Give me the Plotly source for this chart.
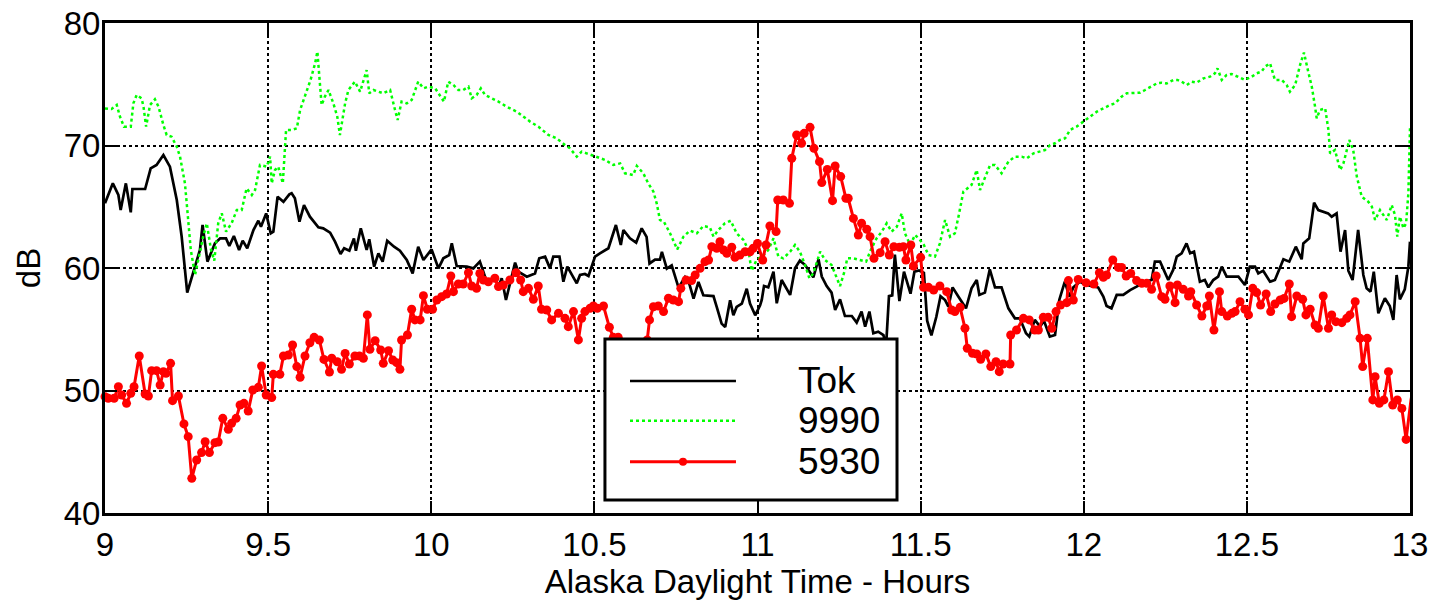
import plotly.graph_objects as go

# ---------------- data (hours AKDT, dB) ----------------
tok_hours = [9.000, 9.024, 9.041, 9.048, 9.064, 9.079, 9.084, 9.123, 9.140, 9.158, 9.179, 9.199, 9.220, 9.235, 9.252,
             9.291, 9.299, 9.314, 9.337, 9.353, 9.371, 9.381, 9.395, 9.411, 9.422, 9.436, 9.455, 9.470, 9.478, 9.494,
             9.508, 9.516, 9.529, 9.547, 9.565, 9.572, 9.582, 9.596, 9.610, 9.628, 9.654, 9.669, 9.690, 9.705, 9.722,
             9.733, 9.749, 9.763, 9.769, 9.784, 9.802, 9.810, 9.825, 9.838, 9.851, 9.865, 9.886, 9.904, 9.925, 9.943,
             9.960, 9.976, 10.001, 10.022, 10.037, 10.055, 10.063, 10.078, 10.109, 10.129, 10.149, 10.170, 10.195,
             10.206, 10.216, 10.229, 10.257, 10.267, 10.293, 10.318, 10.331, 10.349, 10.364, 10.374, 10.393, 10.405,
             10.417, 10.446, 10.456, 10.471, 10.482, 10.502, 10.517, 10.543, 10.566, 10.581, 10.589, 10.609, 10.628,
             10.645, 10.660, 10.669, 10.686, 10.701, 10.707, 10.722, 10.737, 10.758, 10.778, 10.788, 10.804, 10.819,
             10.834, 10.865, 10.875, 10.890, 10.901, 10.916, 10.926, 10.936, 10.952, 10.967, 10.977, 10.993, 11.008,
             11.013, 11.020, 11.033, 11.049, 11.059, 11.074, 11.100, 11.115, 11.130, 11.146, 11.171, 11.187, 11.197,
             11.212, 11.227, 11.238, 11.253, 11.268, 11.289, 11.304, 11.319, 11.330, 11.343, 11.355, 11.370, 11.386,
             11.394, 11.403, 11.413, 11.421, 11.435, 11.449, 11.469, 11.481, 11.495, 11.510, 11.520, 11.533, 11.548,
             11.561, 11.575, 11.585, 11.598, 11.616, 11.639, 11.656, 11.672, 11.680, 11.697, 11.712, 11.728, 11.748,
             11.769, 11.789, 11.804, 11.823, 11.833, 11.850, 11.866, 11.878, 11.896, 11.912, 11.925, 11.942, 11.956,
             11.968, 11.988, 12.009, 12.029, 12.044, 12.060, 12.070, 12.085, 12.101, 12.121, 12.142, 12.162, 12.188,
             12.208, 12.218, 12.234, 12.244, 12.259, 12.274, 12.285, 12.300, 12.315, 12.326, 12.338, 12.356, 12.371,
             12.382, 12.397, 12.412, 12.423, 12.438, 12.474, 12.494, 12.509, 12.525, 12.535, 12.550, 12.571, 12.586,
             12.612, 12.630, 12.650, 12.668, 12.673, 12.691, 12.706, 12.719, 12.749, 12.760, 12.775, 12.787, 12.801,
             12.811, 12.824, 12.841, 12.857, 12.867, 12.879, 12.889, 12.903, 12.923, 12.938, 12.949, 12.959, 12.969,
             12.984, 12.995, 13.000]
tok_db = [65.28, 66.91, 65.96, 64.73, 66.91, 64.54, 66.45, 66.45, 68.14, 68.41, 69.22, 68.27, 65.55, 62.56, 57.99,
          61.47, 63.51, 60.52, 62.01, 62.42, 62.42, 61.80, 62.61, 61.47, 62.23, 61.61, 63.10, 63.86, 63.37, 64.46,
          62.83, 62.97, 65.82, 65.41, 66.01, 66.10, 65.69, 63.78, 65.14, 64.19, 63.32, 63.24, 62.88, 62.15, 61.14,
          61.61, 61.41, 62.42, 61.41, 63.24, 61.47, 62.34, 60.11, 61.20, 60.52, 62.23, 61.74, 61.41, 60.65, 59.56,
          61.74, 60.65, 61.52, 59.97, 60.79, 61.06, 62.01, 60.16, 60.11, 59.97, 60.52, 58.88, 59.29,
          58.48, 59.16, 57.39, 60.44, 59.70, 59.29, 59.56, 60.79, 60.93, 59.97, 60.93, 60.93, 58.88,
          60.11, 58.75, 59.43, 59.51, 59.35, 60.93, 61.20, 61.61, 63.51, 61.88, 63.10, 62.42, 62.07,
          63.24, 62.54, 60.37, 60.69, 60.69, 61.31, 59.95, 60.22, 58.40, 59.27, 58.99, 57.50, 58.86,
          57.77, 57.71, 56.82, 55.46, 55.18, 57.36, 56.14, 56.82, 57.09, 58.31, 57.09, 56.14, 56.95,
          57.39, 58.53, 58.42, 59.70, 57.12, 59.02, 57.80, 59.97, 60.60, 60.24, 59.24, 60.71, 59.30,
          58.53, 57.99, 56.57, 57.44, 56.08, 56.08, 55.54, 56.44, 55.21, 56.44, 54.67, 54.80, 54.53,
          53.58, 57.70, 57.77, 61.10, 57.30, 59.70, 57.90, 59.70, 59.80, 59.60, 55.70, 54.50, 56.00,
          57.70, 57.38, 56.84, 58.42, 57.66, 56.71, 58.34, 59.02, 57.80, 57.99, 59.89, 58.42, 58.42,
          56.71, 55.89, 55.89, 54.67, 54.40, 55.76, 55.21, 55.70, 54.40, 54.53, 57.39, 58.88, 57.66,
          58.42, 58.88, 58.61, 58.53, 58.42, 57.66, 56.90, 56.71, 57.80, 57.80, 58.20, 58.48, 58.88,
          59.02, 60.52, 60.52, 59.97, 59.02, 59.84, 60.93, 61.20, 62.01, 61.20, 61.33, 58.88, 59.02,
          58.42, 59.02, 59.29, 60.11, 59.29, 59.29, 58.61, 60.11, 60.11, 59.56, 59.78, 58.88, 59.02,
          60.71, 60.52, 61.74, 60.71, 62.01, 62.42, 65.33, 64.73, 64.46, 64.19, 64.46, 61.33, 63.10,
          59.78, 59.02, 63.10, 59.43, 58.34, 58.07, 59.70, 56.30, 57.53, 56.90, 55.76, 59.43, 57.44,
          58.26, 60.11, 62.15]

k9990_hours = [9.000, 9.020, 9.036, 9.046, 9.058, 9.079, 9.087, 9.097, 9.112, 9.118, 9.126, 9.131, 9.138, 9.153, 9.164,
               9.179, 9.189, 9.204, 9.220, 9.230, 9.245, 9.255, 9.263, 9.276, 9.291, 9.301, 9.312, 9.325, 9.335,
               9.347, 9.358, 9.371, 9.388, 9.404, 9.419, 9.434, 9.450, 9.460, 9.475, 9.496, 9.506, 9.511, 9.521,
               9.531, 9.545, 9.555, 9.572, 9.588, 9.598, 9.608, 9.618, 9.630, 9.644, 9.651, 9.657, 9.664, 9.674,
               9.685, 9.700, 9.712, 9.720, 9.736, 9.746, 9.766, 9.782, 9.792, 9.802, 9.810, 9.823, 9.853, 9.874,
               9.889, 9.897, 9.909, 9.925, 9.940, 9.960, 9.976, 9.991, 10.012, 10.027, 10.039, 10.052, 10.068,
               10.083, 10.098, 10.114, 10.124, 10.139, 10.152, 10.165, 10.185, 10.206, 10.231, 10.262, 10.303,
               10.328, 10.359, 10.384, 10.410, 10.425, 10.446, 10.461, 10.476, 10.502, 10.533, 10.558, 10.579,
               10.594, 10.619, 10.630, 10.650, 10.665, 10.681, 10.691, 10.701, 10.713, 10.732, 10.754, 10.773,
               10.793, 10.814, 10.834, 10.854, 10.865, 10.880, 10.900, 10.918, 10.936, 10.957, 10.972, 10.982,
               10.997, 11.018, 11.033, 11.049, 11.064, 11.079, 11.100, 11.115, 11.130, 11.146, 11.159, 11.171,
               11.192, 11.207, 11.227, 11.245, 11.253, 11.268, 11.275, 11.294, 11.314, 11.333, 11.347, 11.365,
               11.381, 11.396, 11.411, 11.427, 11.442, 11.452, 11.468, 11.483, 11.498, 11.510, 11.524, 11.544,
               11.559, 11.575, 11.590, 11.605, 11.616, 11.631, 11.656, 11.672, 11.682, 11.697, 11.713, 11.728,
               11.748, 11.769, 11.789, 11.810, 11.825, 11.846, 11.866, 11.881, 11.897, 11.912, 11.927, 11.943,
               11.958, 11.978, 11.999, 12.019, 12.040, 12.060, 12.081, 12.096, 12.116, 12.132, 12.152, 12.172,
               12.188, 12.203, 12.224, 12.239, 12.254, 12.275, 12.287, 12.300, 12.316, 12.331, 12.346, 12.367,
               12.387, 12.402, 12.410, 12.423, 12.438, 12.453, 12.474, 12.494, 12.515, 12.530, 12.545, 12.556,
               12.571, 12.586, 12.607, 12.622, 12.632, 12.648, 12.663, 12.675, 12.688, 12.699, 12.709, 12.714,
               12.724, 12.740, 12.750, 12.755, 12.770, 12.786, 12.796, 12.806, 12.814, 12.826, 12.837, 12.852,
               12.872, 12.883, 12.893, 12.908, 12.929, 12.944, 12.954, 12.961, 12.969, 12.980, 12.988, 12.995,
               13.000]
k9990_db = [73.03, 72.98, 73.31, 72.35, 71.54, 71.54, 73.44, 74.12, 73.85, 73.17, 71.54, 72.35, 73.31, 73.77, 73.17,
            71.67, 70.86, 70.72, 69.90, 69.09, 66.91, 63.92, 61.47, 59.43, 61.47, 62.56, 63.65, 61.47, 60.60,
            63.65, 64.46, 62.97, 63.65, 64.73, 64.73, 66.50, 65.96, 66.37, 68.41, 68.27, 69.09, 66.91, 68.00,
            68.27, 66.91, 71.27, 71.27, 71.40, 72.90, 73.71, 74.53, 75.35, 76.71, 77.66, 75.62, 73.31, 73.99,
            74.53, 73.44, 72.35, 70.86, 73.44, 74.53, 75.21, 74.39, 75.21, 76.16, 74.26, 74.53, 74.26, 74.53,
            72.90, 72.08, 73.58, 73.44, 73.71, 75.21, 74.67, 74.80, 74.67, 74.12, 73.58, 75.21, 74.94,
            74.53, 74.53, 74.80, 73.85, 74.12, 74.67, 74.12, 73.85, 73.58, 73.17, 72.76, 71.95,
            71.54, 70.86, 70.59, 70.04, 69.77, 69.09, 69.50, 69.36, 69.09, 68.82, 68.41, 68.54,
            67.73, 67.59, 68.33, 67.73, 66.91, 66.23, 65.28, 63.92, 63.78, 62.83, 61.52, 62.56,
            63.05, 62.83, 63.43, 63.32, 62.56, 63.10, 63.65, 63.86, 62.83, 62.29, 61.47, 59.78,
            60.65, 61.06, 61.47, 62.42, 60.93, 60.79, 61.33, 61.88, 61.33, 60.24, 59.16, 59.56,
            61.33, 60.65, 60.24, 59.16, 58.53, 59.84, 60.79, 60.79, 60.65, 60.52, 61.47, 62.42,
            62.97, 63.65, 62.97, 63.37, 64.46, 62.83, 61.88, 62.70, 62.29, 61.88, 61.06, 60.93,
            62.01, 63.92, 62.56, 62.83, 64.19, 66.23, 66.78, 68.00, 66.37, 67.32, 68.41, 68.41,
            67.73, 68.68, 69.09, 69.09, 68.95, 69.36, 69.50, 69.63, 70.04, 70.18, 70.45, 70.59,
            71.27, 71.54, 71.95, 72.35, 72.76, 73.03, 73.31, 73.44, 73.99, 74.26, 74.31, 74.31,
            74.53, 74.75, 75.07, 75.13, 75.07, 75.35, 75.35, 75.21, 74.94, 75.21, 75.13, 75.48,
            75.62, 75.89, 76.30, 75.35, 75.76, 75.84, 75.62, 75.35, 75.62, 75.89, 76.03, 76.44,
            76.71, 75.35, 75.35, 74.94, 74.39, 74.94, 76.57, 77.58, 76.03, 74.80, 73.17, 72.22,
            72.90, 73.03, 71.27, 69.36, 69.63, 68.00, 68.54, 69.63, 70.45, 69.63, 67.46, 65.82,
            65.41, 65.01, 63.92, 64.73, 63.92, 65.14, 64.33, 62.56, 64.19, 63.24, 63.65, 66.10,
            71.40]

k5930_hours = [9.000, 9.010, 9.028, 9.041, 9.051, 9.066, 9.079, 9.089, 9.105, 9.123, 9.133, 9.143, 9.158, 9.169, 9.179,
               9.187, 9.201, 9.207, 9.225, 9.242, 9.255, 9.266, 9.281, 9.296, 9.307, 9.320, 9.337, 9.347, 9.361,
               9.378, 9.388, 9.402, 9.414, 9.426, 9.439, 9.453, 9.470, 9.480, 9.494, 9.511, 9.516, 9.536, 9.547,
               9.562, 9.575, 9.588, 9.598, 9.613, 9.628, 9.641, 9.657, 9.671, 9.688, 9.695, 9.712, 9.725, 9.736,
               9.749, 9.766, 9.780, 9.792, 9.804, 9.812, 9.828, 9.845, 9.853, 9.869, 9.882, 9.894, 9.904, 9.909,
               9.927, 9.940, 9.950, 9.966, 9.976, 9.988, 10.004, 10.017, 10.032, 10.047, 10.060, 10.068, 10.083,
               10.098, 10.114, 10.124, 10.139, 10.149, 10.160, 10.175, 10.195, 10.206, 10.221, 10.241, 10.260,
               10.274, 10.282, 10.298, 10.313, 10.328, 10.338, 10.354, 10.369, 10.390, 10.410, 10.420, 10.436,
               10.451, 10.461, 10.471, 10.487, 10.497, 10.509, 10.528, 10.546, 10.558, 10.573, 10.600, 10.640,
               10.662, 10.669, 10.681, 10.696, 10.712, 10.727, 10.742, 10.758, 10.765, 10.781, 10.798, 10.809,
               10.824, 10.839, 10.850, 10.860, 10.875, 10.885, 10.896, 10.906, 10.921, 10.931, 10.946, 10.962,
               10.977, 10.987, 11.000, 11.016, 11.026, 11.038, 11.057, 11.062, 11.079, 11.098, 11.105, 11.120,
               11.135, 11.143, 11.161, 11.173, 11.190, 11.197, 11.214, 11.230, 11.238, 11.255, 11.271, 11.278,
               11.294, 11.309, 11.319, 11.335, 11.345, 11.357, 11.376, 11.391, 11.404, 11.418, 11.435, 11.447,
               11.455, 11.470, 11.478, 11.500, 11.509, 11.524, 11.540, 11.559, 11.580, 11.595, 11.605, 11.621,
               11.636, 11.643, 11.659, 11.672, 11.684, 11.700, 11.715, 11.731, 11.741, 11.753, 11.774, 11.776,
               11.794, 11.815, 11.833, 11.850, 11.861, 11.876, 11.891, 11.902, 11.915, 11.929, 11.948, 11.953,
               11.968, 11.983, 12.007, 12.031, 12.048, 12.060, 12.070, 12.089, 12.106, 12.116, 12.130, 12.144,
               12.162, 12.178, 12.193, 12.208, 12.222, 12.239, 12.249, 12.264, 12.280, 12.287, 12.305, 12.321,
               12.328, 12.346, 12.362, 12.377, 12.385, 12.399, 12.416, 12.423, 12.440, 12.454, 12.464, 12.479,
               12.494, 12.505, 12.518, 12.530, 12.542, 12.559, 12.573, 12.586, 12.602, 12.614, 12.630, 12.637,
               12.653, 12.671, 12.681, 12.694, 12.709, 12.719, 12.734, 12.750, 12.760, 12.773, 12.791, 12.806,
               12.816, 12.832, 12.847, 12.855, 12.869, 12.886, 12.893, 12.906, 12.920, 12.934, 12.947, 12.961,
               12.975, 12.988, 13.003, 13.020]
k5930_db = [49.50, 49.37, 49.37, 50.31, 49.63, 48.95, 49.77, 50.31, 52.82, 49.71, 49.55, 51.62, 51.62, 50.45, 51.54,
            51.40, 52.22, 49.17, 49.55, 47.27, 46.23, 42.83, 44.33, 44.93, 45.82, 44.93, 45.74, 45.80, 47.73,
            46.83, 47.32, 47.73, 48.82, 48.95, 48.33, 50.04, 50.26, 52.00, 49.63, 49.42, 51.32, 51.32, 52.82,
            52.90, 53.71, 51.95, 51.08, 52.82, 53.90, 54.34, 54.12, 52.54, 51.51, 52.63, 52.35, 51.73, 53.03,
            52.16, 52.82, 52.82, 52.63, 56.17, 53.36, 54.07, 53.31, 52.22, 53.25, 52.49, 52.27, 51.73, 54.12,
            54.53, 56.63, 55.76, 55.76, 57.74, 56.63, 56.63, 57.39, 57.66, 57.88, 59.35, 58.07, 58.69,
            58.69, 59.62, 58.53, 58.34, 59.56, 59.02, 58.88, 59.16, 58.48, 58.61, 59.02, 59.62,
            59.02, 58.07, 58.34, 57.44, 58.53, 56.63, 56.57, 55.76, 56.30, 55.89, 55.21, 56.44,
            54.13, 55.89, 56.44, 56.71, 56.90, 56.71, 56.90, 55.16, 54.34, 54.34, 52.80, 52.50,
            54.13, 55.76, 56.84, 56.90, 56.44, 57.53, 57.39, 57.25, 58.34, 59.02, 58.97, 59.43,
            59.97, 60.52, 60.65, 61.74, 61.61, 62.15, 61.47, 61.20, 61.69, 60.87, 61.06, 61.33,
            61.33, 61.61, 62.01, 60.65, 61.88, 63.43, 62.97, 65.55, 65.55, 65.28, 68.95, 70.86,
            70.18, 70.99, 71.48, 69.77, 68.68, 66.97, 68.05, 65.50, 68.33, 67.46, 65.69, 65.69,
            64.05, 62.69, 63.65, 63.16, 62.56, 60.79, 61.25, 62.15, 61.06, 61.74, 61.69, 61.74,
            60.65, 61.88, 60.16, 60.87, 58.42, 58.42, 58.20, 58.53, 58.07, 56.57, 56.44, 56.79,
            55.08, 53.45, 53.04, 52.98, 52.55, 52.98, 51.95, 52.35, 51.54, 52.16, 52.16, 54.53,
            54.94, 55.89, 55.76, 54.94, 54.94, 55.97, 55.97, 55.08, 56.44, 56.98, 57.17, 58.97,
            57.39, 59.07, 58.80, 58.69, 59.62, 59.24, 59.43, 60.65, 60.05, 60.05, 59.35, 59.56,
            58.97, 58.75, 58.75, 58.26, 59.35, 57.66, 57.44, 58.53, 57.17, 58.61, 58.26, 57.71,
            58.07, 56.98, 56.08, 56.90, 57.71, 54.94, 58.07, 56.44, 56.08, 56.30, 56.44, 57.25,
            56.63, 56.17, 58.34, 57.99, 56.98, 57.88, 56.44, 57.06, 57.39, 57.52, 58.69, 56.03,
            57.71, 57.44, 56.17, 56.63, 55.35, 55.08, 57.71, 55.08, 56.17, 55.62, 55.54, 55.89,
            56.17, 57.25, 54.26, 51.95, 54.26, 49.23, 51.13, 48.95, 49.23, 51.54, 48.82, 49.23,
            48.54, 46.01, 49.23, 51.73]

x_ticks = [9, 9.5, 10, 10.5, 11, 11.5, 12, 12.5, 13]
x_tick_labels = ["9", "9.5", "10", "10.5", "11", "11.5", "12", "12.5", "13"]
y_ticks = [40, 50, 60, 70, 80]
y_tick_labels = ["40", "50", "60", "70", "80"]
series_names = ["Tok", "9990", "5930"]

FONT = "Liberation Sans, Arial, Helvetica, sans-serif"

fig = go.Figure()
fig.add_trace(go.Scatter(x=tok_hours, y=tok_db, mode="lines", name=series_names[0],
                         line=dict(color="#000000", width=2.7), showlegend=False))
fig.add_trace(go.Scatter(x=k9990_hours, y=k9990_db, mode="lines", name=series_names[1],
                         line=dict(color="#00ff00", width=2.5, dash="dot"), showlegend=False))
fig.add_trace(go.Scatter(x=k5930_hours, y=k5930_db, mode="lines+markers", name=series_names[2],
                         line=dict(color="#ff0000", width=3), marker=dict(color="#ff0000", size=9),
                         cliponaxis=False, showlegend=False))

axis_common = dict(showline=True, linecolor="#000000", linewidth=3, mirror="ticks",
                   ticks="inside", ticklen=12, tickwidth=2, tickcolor="#000000",
                   showgrid=True, gridcolor="#000000", gridwidth=2, griddash="dot",
                   zeroline=False, automargin=False, ticklabeloverflow="allow",
                   tickfont=dict(family=FONT, size=33, color="#000000"))

fig.update_xaxes(range=[9, 13], tickvals=x_ticks, ticktext=x_tick_labels,
                 title=dict(text="Alaska Daylight Time - Hours", font=dict(family=FONT, size=33, color="#000000"),
                            standoff=9), **axis_common)
fig.update_yaxes(range=[40, 80], tickvals=y_ticks, ticktext=y_tick_labels, ticklabelstandoff=-5,
                 title=dict(text="dB", font=dict(family=FONT, size=33, color="#000000"), standoff=14),
                 **axis_common)

# ---- custom legend box (paper coords) ----
lx0, lx1, ly0, ly1 = 0.3831, 0.6069, 0.0265, 0.3551
fig.add_shape(type="rect", xref="paper", yref="paper", x0=lx0, x1=lx1, y0=ly0, y1=ly1,
              fillcolor="#ffffff", line=dict(color="#000000", width=3), layer="above")
legend_rows = [0.2694, 0.1884, 0.1047]
sx0, sx1 = 0.4023, 0.4835
styles = [dict(color="#000000", width=2.7), dict(color="#00ff00", width=2.5, dash="dot"),
          dict(color="#ff0000", width=3)]
for name, yy, st in zip(series_names, legend_rows, styles):
    fig.add_shape(type="line", xref="paper", yref="paper", x0=sx0, x1=sx1, y0=yy, y1=yy,
                  line=st, layer="above")
    fig.add_annotation(x=0.5326, y=yy, xref="paper", yref="paper", text=name, showarrow=False,
                       xanchor="left", yanchor="middle", xshift=-4,
                       font=dict(family=FONT, size=37, color="#000000"))
# marker on the 5930 legend sample
mx = (sx0 + sx1) / 2
fig.add_shape(type="circle", xref="paper", yref="paper", xsizemode="pixel", ysizemode="pixel",
              xanchor=mx, yanchor=legend_rows[2], x0=-4, x1=4, y0=-4, y1=4,
              fillcolor="#ff0000", line=dict(color="#ff0000", width=0), layer="above")

fig.update_layout(width=1437, height=605, margin=dict(l=105, r=27, t=23, b=92, autoexpand=False),
                  paper_bgcolor="#ffffff", plot_bgcolor="#ffffff",
                  font=dict(family=FONT, color="#000000"), showlegend=False)
# remove the default 8 px page margin so the figure sits at the window's top-left corner
fig.write_html("out.html", config={"displayModeBar": False},
               post_script="document.body.style.margin='0px';")
